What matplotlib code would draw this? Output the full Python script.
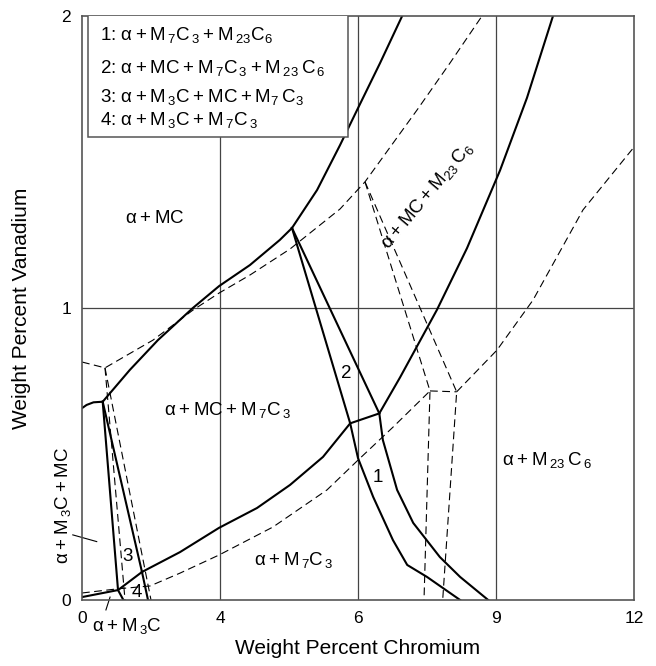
import matplotlib
matplotlib.use('Agg')
import matplotlib.pyplot as plt
from matplotlib.patches import Rectangle

plt.rcParams['font.family'] = ['Liberation Sans', 'DejaVu Sans']
plt.rcParams['mathtext.fontset'] = 'custom'
plt.rcParams['mathtext.rm'] = 'Liberation Sans'

# axis ticks (positions are equally spaced, labels as printed)
xtick_pos = [0, 3, 6, 9, 12]
xtick_lab = ['0', '4', '6', '9', '12']
ytick_pos = [0, 1, 2]

# solid phase boundaries
arc_x = [0, 0.1, 0.25, 0.45]
arc_y = [0.657, 0.668, 0.677, 0.679]
mc_low_x = [0.45, 1.04, 1.65, 2.41, 2.98, 3.65, 4.30, 4.565]
mc_low_y = [0.679, 0.788, 0.890, 1.0, 1.075, 1.147, 1.233, 1.274]
mc_top_x = [4.565, 5.11, 5.61, 5.98, 6.48, 6.96]
mc_top_y = [1.274, 1.404, 1.558, 1.678, 1.839, 2.0]
left_x = [4.565, 5.83, 6.0, 6.33, 6.76, 7.07, 7.5, 8.22]
left_y = [1.274, 0.605, 0.486, 0.353, 0.205, 0.12, 0.079, 0.0]
right_x = [4.565, 6.463, 6.54, 6.85, 7.20, 7.78, 8.22, 8.83]
right_y = [1.274, 0.639, 0.548, 0.377, 0.264, 0.147, 0.079, 0.0]
tie_x = [5.83, 6.463]
tie_y = [0.605, 0.639]
m23_x = [6.463, 6.913, 7.717, 8.37, 9.087, 9.674, 10.239]
m23_y = [0.639, 0.762, 0.994, 1.205, 1.471, 1.720, 2.0]
m7_x = [1.304, 2.13, 2.978, 3.804, 4.522, 5.239, 5.83]
m7_y = [0.096, 0.164, 0.247, 0.315, 0.394, 0.490, 0.605]
base_x = [0, 0.783, 1.304]
base_y = [0.010, 0.034, 0.096]
v1_x = [0.45, 0.783, 0.9]
v1_y = [0.679, 0.034, 0.0]
v2_x = [0.45, 1.304, 1.435]
v2_y = [0.679, 0.096, 0.0]

# dashed phase boundaries
d_up_x = [0, 0.5, 1.543, 2.413, 2.978, 3.652, 4.522, 5.609, 6.152, 7.283, 8.0, 8.696]
d_up_y = [0.815, 0.795, 0.890, 0.993, 1.051, 1.113, 1.202, 1.339, 1.432, 1.678, 1.839, 2.0]
d_low_x = [0, 0.761, 1.478, 2.13, 2.978, 4.152, 5.326, 6.0, 6.761, 7.565]
d_low_y = [0.024, 0.038, 0.048, 0.092, 0.154, 0.25, 0.377, 0.479, 0.592, 0.716]
dv1_x = [0.5, 0.935]
dv1_y = [0.795, 0.0]
dv2_x = [0.5, 1.5]
dv2_y = [0.795, 0.0]
dd1_x = [6.152, 7.565, 7.435]
dd1_y = [1.432, 0.716, 0.0]
dd2_x = [6.152, 8.145, 7.841]
dd2_y = [1.432, 0.713, 0.0]
dh_x = [7.565, 8.145]
dh_y = [0.716, 0.713]
d_right_x = [8.145, 9.022, 9.804, 10.891, 12.0]
d_right_y = [0.713, 0.856, 1.027, 1.336, 1.551]

legend_lines = [
    r'1: $\mathregular{α+M_{\,7}C_{\,3}+M_{\,23}C_{6}}$',
    r'2: $\mathregular{α+MC+M_{\,7}C_{\,3}+M_{\,23}\,C_{\,6}}$',
    r'3: $\mathregular{α+M_{\,3}C+MC+M_{7}\,C_{3}}$',
    r'4: $\mathregular{α+M_{\,3}C+M_{\,7}C_{\,3}}$',
]

fig = plt.figure(figsize=(6.56, 6.66), dpi=100)
ax = fig.add_axes([82/656, 66/666, 552/656, 584/666])
ax.set_xlim(0, 12)
ax.set_ylim(0, 2)

for v in [3, 6, 9]:
    ax.axvline(v, color='#444444', lw=0.9, zorder=1)
ax.axhline(1, color='#444444', lw=0.9, zorder=1)

solid = dict(color='black', lw=1.5, zorder=2)
for xs, ys in [(arc_x, arc_y), (mc_low_x, mc_low_y), (mc_top_x, mc_top_y),
               (left_x, left_y), (right_x, right_y), (tie_x, tie_y),
               (m23_x, m23_y), (m7_x, m7_y), (base_x, base_y),
               (v1_x, v1_y), (v2_x, v2_y)]:
    ax.plot(xs, ys, **solid)

dashed = dict(color='black', lw=0.8, ls=(0, (7, 4)), zorder=2)
for xs, ys in [(d_up_x, d_up_y), (d_low_x, d_low_y), (dv1_x, dv1_y),
               (dv2_x, dv2_y), (dd1_x, dd1_y), (dd2_x, dd2_y),
               (dh_x, dh_y), (d_right_x, d_right_y)]:
    ax.plot(xs, ys, **dashed)

# legend box
ax.add_patch(Rectangle((0.13, 1.586), 5.65, 0.45, facecolor='white',
                       edgecolor='#555555', lw=1.1, zorder=3, clip_on=True))
for txt, yy in zip(legend_lines, [1.918, 1.805, 1.705, 1.627]):
    ax.text(0.39, yy, txt, fontsize=13.5, va='baseline', ha='left', zorder=4)

fs = 13.5
ax.text(1.587, 1.291, r'$\mathregular{α+MC}$', fontsize=fs, ha='center', va='baseline')
ax.text(3.17, 0.634, r'$\mathregular{α+MC+M_{\,7}C_{\,3}}$', fontsize=fs, ha='center', va='baseline')
ax.text(4.61, 0.12, r'$\mathregular{α+M_{\,7}C_{\,3}}$', fontsize=fs, ha='center', va='baseline')
ax.text(9.13, 0.462, r'$\mathregular{α+M_{\,23}\,C_{\,6}}$', fontsize=fs, ha='left', va='baseline')
ax.text(7.5, 1.384, r'$\mathregular{α+MC+M_{23}\,C_{6}}$', fontsize=fs, ha='center',
        va='center', rotation=50, rotation_mode='anchor')
ax.text(-0.41, 0.325, r'$\mathregular{α+M_{\,3}C+MC}$', fontsize=fs, ha='center',
        va='center', rotation=90, clip_on=False)
ax.plot([-0.2, 0.32], [0.223, 0.2], color='black', lw=0.8, clip_on=False)
ax.text(0.22, -0.09, r'$\mathregular{α+M_{\,3}C}$', fontsize=fs, ha='left', va='center',
        clip_on=False)
ax.plot([0.61, 0.52], [0.01, -0.034], color='black', lw=0.8, clip_on=False)

for lab, xx, yy in [('1', 6.435, 0.418), ('2', 5.739, 0.777),
                    ('3', 0.98, 0.15), ('4', 1.2, 0.027)]:
    ax.text(xx, yy, lab, fontsize=fs, ha='center', va='center')

ax.set_xticks(xtick_pos)
ax.set_xticklabels(xtick_lab)
ax.set_yticks(ytick_pos)
ax.tick_params(length=0, labelsize=12.5, pad=8)
for s in ax.spines.values():
    s.set_color('#555555')
    s.set_linewidth(1.2)

ax.set_xlabel('Weight Percent Chromium', fontsize=15)
ax.set_ylabel('Weight Percent Vanadium', fontsize=15)
ax.xaxis.set_label_coords(0.5, -0.066)
ax.yaxis.set_label_coords(-0.092, 0.5)

fig.savefig('out.png', dpi=100)
